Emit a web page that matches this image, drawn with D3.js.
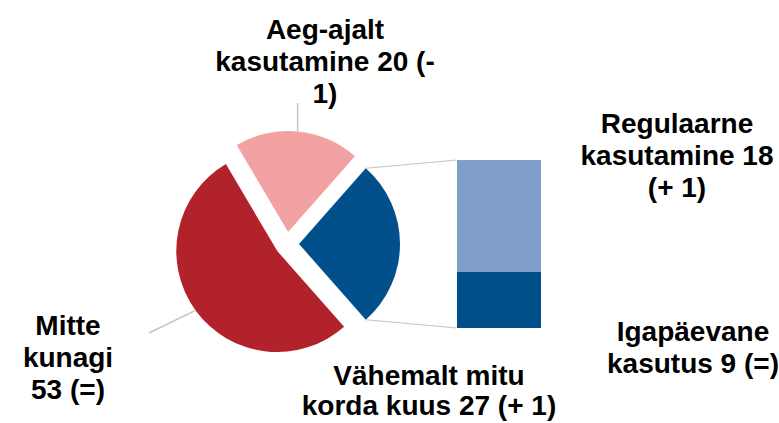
<!DOCTYPE html>
<html>
<head>
<meta charset="utf-8">
<script src="https://cdn.jsdelivr.net/npm/d3@7"></script>
<style>
  body { margin: 0; background: #fff; }
  text { font-family: "Liberation Sans", Arial, sans-serif; font-weight: bold; font-size: 28px; fill: #000; }
</style>
</head>
<body>
<svg></svg>
<script>
// pie slices, clockwise from the "other" slice on the right
let pieNames = ["Vähemalt mitu korda kuus", "Mitte kunagi", "Aeg-ajalt kasutamine"]
let pieValues = [27, 53, 20]
let pieColors = ["#01508b", "#b1222b", "#f3a2a3"]

// breakdown of the "Vähemalt mitu korda kuus" slice, bottom to top
let barNames = ["Igapäevane kasutus", "Regulaarne kasutamine"]
let barValues = [9, 18]
let barColors = ["#004f89", "#7f9fca"]

// label lines as shown
let pieLabels = [
  ["Vähemalt mitu", "korda kuus 27 (+ 1)"],
  ["Mitte", "kunagi", "53 (=)"],
  ["Aeg-ajalt", "kasutamine 20 (-", "1)"]
]
let barLabels = [
  ["Igapäevane", "kasutus 9 (=)"],
  ["Regulaarne", "kasutamine 18", "(+ 1)"]
]

let width = 779
let height = 423
let cx = 287
let cy = 244
let radius = 101
let explode = 12
let barLeft = 457
let barRight = 541
let barTop = 160
let barBottom = 328
let lineGap = 32

let svg = d3.select("svg")
svg.attr("width", width).attr("height", height)

let offset = 41.4 * Math.PI / 180
let pie = d3.pie().sort(null).startAngle(offset).endAngle(offset + 2 * Math.PI)
let arcs = pie(pieValues)
let arc = d3.arc().innerRadius(0).outerRadius(radius)

// point on a slice, measured from its exploded tip
let slicePoint = (d, angle, dist) => {
  let mid = (d.startAngle + d.endAngle) / 2
  let tx = cx + explode * Math.sin(mid)
  let ty = cy - explode * Math.cos(mid)
  return [tx + dist * Math.sin(angle), ty - dist * Math.cos(angle)]
}

svg.selectAll("path.slice")
   .data(arcs)
   .enter()
   .append("path")
   .attr("class", "slice")
   .attr("d", arc)
   .attr("fill", (d, i) => pieColors[i])
   .attr("transform", (d) => {
     let p = slicePoint(d, 0, 0)
     return "translate(" + p[0] + "," + p[1] + ")"
   })

// bar of the "other" slice
let yScale = d3.scaleLinear()
               .domain([0, d3.sum(barValues)])
               .range([barBottom, barTop])
let stacked = d3.cumsum(barValues)

svg.selectAll("rect.part")
   .data(barValues)
   .enter()
   .append("rect")
   .attr("class", "part")
   .attr("x", barLeft)
   .attr("width", barRight - barLeft)
   .attr("y", (d, i) => yScale(stacked[i]))
   .attr("height", (d) => yScale(0) - yScale(d))
   .attr("fill", (d, i) => barColors[i])

// connector lines from the blue slice to the bar
let other = arcs[0]
let upperTip = slicePoint(other, other.startAngle, radius)
let lowerTip = slicePoint(other, other.endAngle, radius)
svg.append("line")
   .attr("x1", upperTip[0]).attr("y1", upperTip[1])
   .attr("x2", barLeft).attr("y2", yScale(d3.sum(barValues)))
   .attr("stroke", "#c4c4c4").attr("stroke-width", 1.2)
svg.append("line")
   .attr("x1", lowerTip[0]).attr("y1", lowerTip[1])
   .attr("x2", barLeft).attr("y2", yScale(0))
   .attr("stroke", "#c4c4c4").attr("stroke-width", 1.2)

// leader lines
let pinkEdge = slicePoint(arcs[2], (arcs[2].startAngle + arcs[2].endAngle) / 2, radius)
svg.append("line")
   .attr("x1", pinkEdge[0]).attr("y1", pinkEdge[1])
   .attr("x2", pinkEdge[0]).attr("y2", 103)
   .attr("stroke", "#c4c4c4").attr("stroke-width", 1.5)
let redEdge = slicePoint(arcs[1], (arcs[1].startAngle + arcs[1].endAngle) / 2, radius)
svg.append("line")
   .attr("x1", redEdge[0]).attr("y1", redEdge[1])
   .attr("x2", 149).attr("y2", 333)
   .attr("stroke", "#c4c4c4").attr("stroke-width", 1.5)

let drawLabel = (lines, x, y, gap) => {
  let t = svg.append("text")
             .attr("text-anchor", "middle")
  lines.forEach((line, i) => {
    t.append("tspan")
     .attr("x", x)
     .attr("y", y + i * gap)
     .text(line)
  })
}

drawLabel(pieLabels[0], 429, 385, 30)
drawLabel(pieLabels[1], 68, 335, lineGap)
drawLabel(pieLabels[2], 325, 39, lineGap)
drawLabel(barLabels[0], 693, 341, lineGap)
drawLabel(barLabels[1], 677, 133, lineGap)
</script>
</body>
</html>
